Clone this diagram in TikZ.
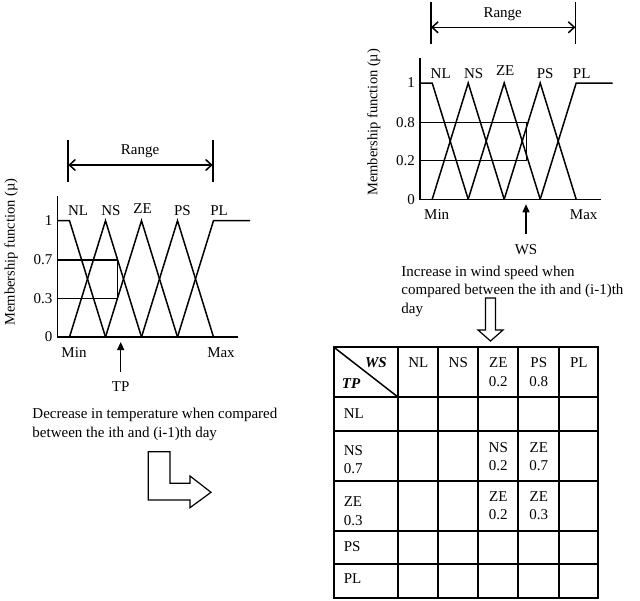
\documentclass[tikz,border=0pt]{standalone}
\usepackage{fontspec}
\setmainfont{Liberation Serif}
\usetikzlibrary{arrows.meta}

\begin{document}
\begin{tikzpicture}[x=1pt,y=-1pt,line width=1.5pt,
    every node/.style={font=\fontsize{15}{18.5}\selectfont,inner sep=0pt},
    bar/.style={line width=1.7pt},
    grid/.style={line width=1.8pt,line cap=rect},
    hollow/.style={line width=1.2pt,line join=miter},
    inarrow/.style={-{Triangle[length=8pt,width=7pt]}},
    span/.style={{Straight Barb[length=6pt,width=11pt]}-{Straight Barb[length=6pt,width=11pt]}}]
  \useasboundingbox (0,0) rectangle (640,600);
  % membership charts: temperature (left) and wind speed (right)
  \foreach \sx/\sy/\hi/\lo/\cx/\ax/\my/\inp in {0/0/0.7/0.3/117.3/120.7/252/TP,362.7/-137.7/0.8/0.2/164/163.3/260/WS}{
    \begin{scope}[shift={(\sx,\sy)}]
      \draw (57.3,196) -- (57.3,337) -- (238,337);
      \draw (57.3,220.7) -- (69.5,220.7) -- (105.5,337);
      \foreach \p in {105.5,141.5,177.5}
        \draw (\p-36,337) -- (\p,220.7) -- (\p+36,337);
      \draw (177.5,337) -- (213.5,220.7) -- (250,220.7);
      \draw (57.3,260) -- (\cx,260) -- (\cx,298.3) -- (57.3,298.3);
      \draw[bar] (68.3,140) -- (68.3,181.7);
      \draw[bar] (212.7,140) -- (212.7,181.7);
      \draw[span] (68.3,165) -- (212.7,165);
      \node (range-\inp) at (140,151.5) {Range};
      \foreach \lab/\lx/\ly in {NL/78/211,NS/111/211,ZE/142.5/208.5,PS/182.5/211,PL/219/211}
        \node (\lab-\inp) at (\lx,\ly) {\lab};
      \node[anchor=east] (one-\inp) at (53,220.7) {1};
      \node[anchor=east] (hi-\inp) at (53,260) {\hi};
      \node[anchor=east] (lo-\inp) at (53,298.3) {\lo};
      \node[anchor=east] (zero-\inp) at (53,337) {0};
      \node (min-\inp) at (74,352.5) {Min};
      \node (max-\inp) at (221,352.5) {Max};
      \node[rotate=90,font=\fontsize{14.5}{17}\selectfont] (mu-\inp) at (11,\my) {Membership function (µ)};
      \node (\inp) at (\ax,387) {\inp};
      \draw[inarrow] ([yshift=9pt]\inp.north) -- (\ax,342);
    \end{scope}
  }
  \node[anchor=north west,align=left] (incr) at (400.7,265.2)
    {Increase in wind speed when\\compared between the ith and (i-1)th\\day};
  \node[anchor=north west,align=left] (decr) at (31.7,407.5)
    {Decrease in temperature when compared\\between the ith and (i-1)th day};
  % hollow arrows
  \draw[hollow] (485.5,298) -- (495.5,298) -- (495.5,330) -- (503,330) -- (490.5,341)
    -- (478,330) -- (485.5,330) -- cycle;
  \draw[hollow] (148.3,451.7) -- (170,451.7) -- (170,483.3) -- (190,483.3) -- (190,476)
    -- (211,492.3) -- (190,507.7) -- (190,500) -- (148.3,500) -- cycle;
  % rule table
  \foreach \gx in {334,398.3,438.3,478.3,518.3,559.3,598.3}
    \draw[grid] (\gx,347.3) -- (\gx,598.3);
  \foreach \gy in {347.3,397.3,431,480.7,530.7,564.3,598.3}
    \draw[grid] (334,\gy) -- (598.3,\gy);
  \draw (334,347.3) -- (398.3,397.3);
  \node[font=\fontsize{15}{18.5}\selectfont\bfseries\itshape] (ws-head) at (376,363) {WS};
  \node[font=\fontsize{15}{18.5}\selectfont\bfseries\itshape] (tp-head) at (351,383.3) {TP};
  \foreach \lab/\hx in {NL/418.3,NS/458.3,PL/578.8}
    \node (col-\lab) at (\hx,362.7) {\lab};
  \node[align=center] (col-ZE) at (498.3,372.2) {ZE\\0.2};
  \node[align=center] (col-PS) at (538.8,372.2) {PS\\0.8};
  \node[anchor=west] (row-NL) at (343,414) {NL};
  \node[anchor=west,align=left] (row-NS) at (343,459.7) {NS\\0.7};
  \node[anchor=west,align=left] (row-ZE) at (343,511) {ZE\\0.3};
  \node[anchor=west] (row-PS) at (343,547) {PS};
  \node[anchor=west] (row-PL) at (343,578.5) {PL};
  \node[align=center] (NS-ZE) at (498.3,456.5) {NS\\0.2};
  \node[align=center] (NS-PS) at (538.8,456.5) {ZE\\0.7};
  \node[align=center] (ZE-ZE) at (498.3,505.8) {ZE\\0.2};
  \node[align=center] (ZE-PS) at (538.8,505.8) {ZE\\0.3};
\end{tikzpicture}
\end{document}
